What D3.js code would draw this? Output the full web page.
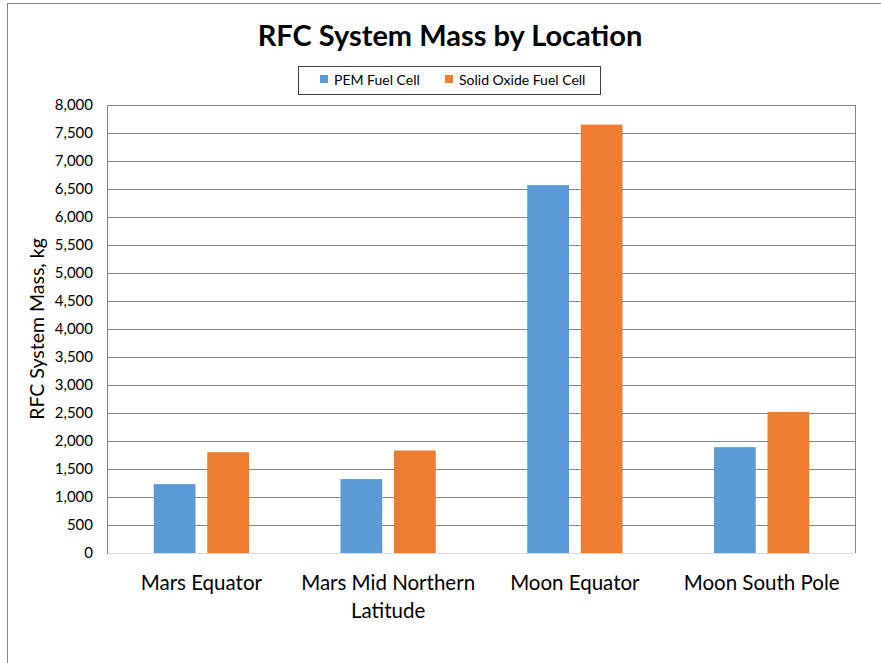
<!DOCTYPE html>
<html>
<head>
<meta charset="utf-8">
<script src="https://cdn.jsdelivr.net/npm/d3@7"></script>
<style>
  body { margin: 0; background: #fff; }
  text { font-family: Lato, "Open Sans", sans-serif; fill: #000; }
</style>
</head>
<body>
<div id="chart"></div>
<script>
var width = 881
var height = 663

var categories = ["Mars Equator", "Mars Mid Northern Latitude", "Moon Equator", "Moon South Pole"]
var series = ["PEM Fuel Cell", "Solid Oxide Fuel Cell"]
var pemValues = [1230, 1320, 6570, 1890]
var sofcValues = [1800, 1830, 7650, 2520]
var yTicks = [0, 500, 1000, 1500, 2000, 2500, 3000, 3500, 4000, 4500, 5000, 5500, 6000, 6500, 7000, 7500, 8000]
var colors = ["#5B9BD5", "#ED7D31"]

var data = categories.map(function(c, i) {
  return { cat: c, values: [pemValues[i], sofcValues[i]] }
})

var plot = { left: 108, right: 855, top: 105, bottom: 553 }

var svg = d3.select("#chart")
  .append("svg")
    .attr("width", width)
    .attr("height", height)

// outer chart frame
svg.append("rect")
  .attr("x", 7.5).attr("y", 3.5)
  .attr("width", 1000).attr("height", 1000)
  .attr("fill", "#fff")
  .attr("stroke", "#868686")
  .attr("stroke-width", 1)

var x0 = d3.scaleBand()
  .domain(categories)
  .range([plot.left, plot.right])
  .paddingInner(0.49)
  .paddingOuter(0.245)

var x1 = d3.scaleBand()
  .domain(series)
  .range([0, x0.bandwidth()])
  .paddingInner(0.22)

var y = d3.scaleLinear()
  .domain([0, 8000])
  .range([plot.bottom, plot.top])

// gridlines
svg.append("g")
  .selectAll("line")
  .data(yTicks.filter(function(d) { return d > 0 }))
  .enter()
  .append("line")
    .attr("x1", plot.left)
    .attr("x2", plot.right)
    .attr("y1", function(d) { return Math.round(y(d)) + 0.5 })
    .attr("y2", function(d) { return Math.round(y(d)) + 0.5 })
    .attr("stroke", "#868686")
    .attr("stroke-width", 1)

// right border of plot area
svg.append("line")
  .attr("x1", plot.right + 0.5).attr("x2", plot.right + 0.5)
  .attr("y1", plot.top).attr("y2", plot.bottom)
  .attr("stroke", "#868686")

// bars
var groups = svg.append("g")
  .selectAll("g")
  .data(data)
  .enter()
  .append("g")
    .attr("transform", function(d) { return "translate(" + x0(d.cat) + ",0)" })

groups.selectAll("rect")
  .data(function(d) { return d.values.map(function(v, i) { return { key: series[i], value: v, i: i } }) })
  .enter()
  .append("rect")
    .attr("x", function(d) { return x1(d.key) })
    .attr("width", x1.bandwidth())
    .attr("y", function(d) { return y(d.value) })
    .attr("height", function(d) { return y(0) - y(d.value) })
    .attr("fill", function(d) { return colors[d.i] })

// axes lines
svg.append("line")
  .attr("x1", plot.left).attr("x2", plot.right)
  .attr("y1", plot.bottom + 0.5).attr("y2", plot.bottom + 0.5)
  .attr("stroke", "#d9d9d9")
svg.append("line")
  .attr("x1", plot.left - 0.5).attr("x2", plot.left - 0.5)
  .attr("y1", plot.top).attr("y2", plot.bottom + 1)
  .attr("stroke", "#868686")

// y axis tick labels
var yAxis = d3.axisLeft(y)
  .tickValues(yTicks)
  .tickSize(0)
  .tickPadding(15)
  .tickFormat(d3.format(","))

var yg = svg.append("g")
  .attr("transform", "translate(" + plot.left + ",0)")
  .call(yAxis)
yg.select(".domain").remove()
yg.selectAll("text")
  .style("font-family", "Lato, 'Open Sans', sans-serif")
  .style("font-size", "15px")
  .attr("fill", "#000")

// x axis category labels
var xAxis = d3.axisBottom(x0).tickSize(0).tickFormat("")
var xg = svg.append("g")
  .attr("transform", "translate(0," + plot.bottom + ")")
  .call(xAxis)
xg.select(".domain").remove()

var catLines = {
  "Mars Equator": ["Mars Equator"],
  "Mars Mid Northern Latitude": ["Mars Mid Northern", "Latitude"],
  "Moon Equator": ["Moon Equator"],
  "Moon South Pole": ["Moon South Pole"]
}
categories.forEach(function(c) {
  var t = svg.append("text")
    .attr("x", x0(c) + x0.bandwidth() / 2)
    .attr("y", 590)
    .attr("text-anchor", "middle")
    .style("font-size", "20.5px")
  catLines[c].forEach(function(line, i) {
    t.append("tspan")
      .attr("x", x0(c) + x0.bandwidth() / 2)
      .attr("dy", i === 0 ? 0 : 28)
      .text(line)
  })
})

// y axis title
svg.append("text")
  .attr("transform", "translate(44," + (plot.top + plot.bottom) / 2 + ") rotate(-90)")
  .attr("text-anchor", "middle")
  .style("font-size", "19.5px")
  .text("RFC System Mass, kg")

// chart title
svg.append("text")
  .attr("x", 450)
  .attr("y", 46)
  .attr("text-anchor", "middle")
  .style("font-size", "29px")
  .style("font-weight", "bold")
  .text("RFC System Mass by Location")

// legend
var legend = svg.append("g")
legend.append("rect")
  .attr("x", 298.5).attr("y", 66.5)
  .attr("width", 302).attr("height", 28)
  .attr("fill", "#fff")
  .attr("stroke", "#404040")

var legendX = [320, 445]
series.forEach(function(s, i) {
  legend.append("rect")
    .attr("x", legendX[i]).attr("y", 75)
    .attr("width", 8).attr("height", 8)
    .attr("fill", colors[i])
  legend.append("text")
    .attr("x", legendX[i] + 14)
    .attr("y", 84.5)
    .style("font-size", "14px")
    .text(s)
})
</script>
</body>
</html>
